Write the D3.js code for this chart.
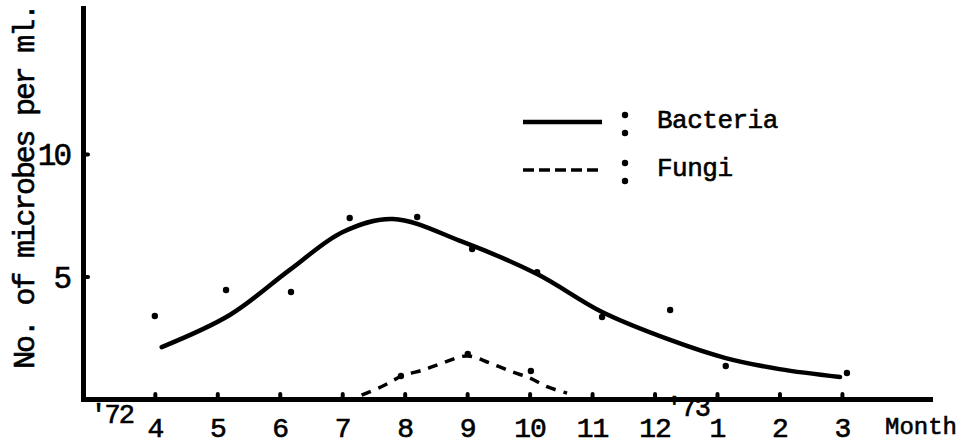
<!DOCTYPE html>
<html>
<head>
<meta charset="utf-8">
<script src="https://cdn.jsdelivr.net/npm/d3@7"></script>
<style>
  body { margin: 0; background: #fff; }
  svg text { font-family: "Liberation Mono", "DejaVu Sans Mono", monospace; fill: #000; stroke: #000; stroke-width: 0.6px; }
</style>
</head>
<body>
<div id="chart"></div>
<script>
// month index 0 = Apr '72 ... 11 = Mar '73
var monthLabels = ["4", "5", "6", "7", "8", "9", "10", "11", "12", "1", "2", "3"];
var yTicks = [5, 10];

// observed counts (position in months, value)
var bacteriaPos = [0.0, 1.14, 2.18, 3.12, 4.2, 5.08, 6.12, 7.16, 8.25, 9.14, 11.08];
var bacteriaVal = [3.39, 4.45, 4.37, 7.39, 7.43, 6.12, 5.18, 3.35, 3.63, 1.35, 1.06];
var fungiPos = [3.94, 5.01, 6.02];
var fungiVal = [0.94, 1.84, 1.14];

// hand-drawn trend lines
var bacteriaCurvePos = [0.11, 1.2, 2.16, 3.01, 3.81, 4.93, 6.12, 7.16, 8.25, 9.14, 10.0, 10.97];
var bacteriaCurveVal = [2.12, 3.43, 5.27, 6.82, 7.35, 6.41, 5.10, 3.55, 2.41, 1.67, 1.22, 0.90];
var fungiCurvePos = [3.31, 3.65, 3.96, 4.29, 4.61, 5.0, 5.36, 5.73, 6.0, 6.29, 6.6];
var fungiCurveVal = [0.16, 0.53, 0.94, 1.18, 1.47, 1.76, 1.47, 1.10, 0.86, 0.49, 0.24];

var legendItems = ["Bacteria", "Fungi"];

var width = 972, height = 444;

var svg = d3.select("#chart").append("svg")
    .attr("width", width)
    .attr("height", height);

var x = d3.scaleLinear().domain([-1.15, 12.41]).range([83, 930]);
var y = d3.scaleLinear().domain([0, 15.96]).range([399, 8]);

// axes
var xAxis = svg.append("g")
    .attr("transform", "translate(0," + y(0) + ")")
    .call(d3.axisBottom(x)
        .tickValues(d3.range(monthLabels.length))
        .tickSize(-5)
        .tickSizeOuter(0)
        .tickPadding(14)
        .tickFormat(function(d) { return monthLabels[d]; }));

var yAxis = svg.append("g")
    .attr("transform", "translate(" + x(-1.15) + ",0)")
    .call(d3.axisLeft(y)
        .tickValues(yTicks)
        .tickSize(-5)
        .tickSizeOuter(0)
        .tickPadding(14));

svg.selectAll("path.domain")
    .attr("stroke", "#000")
    .attr("stroke-width", 5)
    .attr("stroke-linecap", "square");
svg.selectAll("g.tick line")
    .attr("stroke", "#000")
    .attr("stroke-width", 4)
    .attr("stroke-linecap", "round");
svg.selectAll("g.tick text").attr("fill", "#000");
xAxis.selectAll("g.tick text")
    .style("font-size", "28px")
    .style("letter-spacing", "-1px")
    .attr("dy", "0.85em");
yAxis.selectAll("g.tick text")
    .style("font-size", "31px")
    .style("letter-spacing", "-3px")
    .attr("dy", "0.35em");

// year marks
svg.append("text")
    .attr("x", x(-0.69))
    .attr("y", 423)
    .attr("text-anchor", "middle")
    .style("font-size", "27px")
    .style("letter-spacing", "-2px")
    .text("'72");
svg.append("text")
    .attr("x", x(8.53))
    .attr("y", 416)
    .attr("text-anchor", "middle")
    .style("font-size", "27px")
    .style("letter-spacing", "-2px")
    .text("'73");

svg.append("text")
    .attr("x", 885)
    .attr("y", 434)
    .style("font-size", "24px")
    .text("Month");

// y label
svg.append("text")
    .attr("transform", "translate(34,187) rotate(-90)")
    .attr("text-anchor", "middle")
    .style("font-size", "30px")
    .style("letter-spacing", "-2.2px")
    .text("No. of microbes per ml.");

// curves
var line = d3.line()
    .x(function(d) { return x(d[0]); })
    .y(function(d) { return y(d[1]); })
    .curve(d3.curveCatmullRom);

svg.append("path")
    .datum(d3.zip(bacteriaCurvePos, bacteriaCurveVal))
    .attr("d", line)
    .attr("fill", "none")
    .attr("stroke", "#000")
    .attr("stroke-width", 4.5)
    .attr("stroke-linecap", "round");

svg.append("path")
    .datum(d3.zip(fungiCurvePos, fungiCurveVal))
    .attr("d", line)
    .attr("fill", "none")
    .attr("stroke", "#000")
    .attr("stroke-width", 3.5)
    .attr("stroke-dasharray", "10,8");

// observed points
svg.selectAll(".bpt")
    .data(d3.zip(bacteriaPos, bacteriaVal))
    .enter().append("circle")
    .attr("class", "bpt")
    .attr("cx", function(d) { return x(d[0]); })
    .attr("cy", function(d) { return y(d[1]); })
    .attr("r", 3.2)
    .attr("fill", "#000");

svg.selectAll(".fpt")
    .data(d3.zip(fungiPos, fungiVal))
    .enter().append("circle")
    .attr("class", "fpt")
    .attr("cx", function(d) { return x(d[0]); })
    .attr("cy", function(d) { return y(d[1]); })
    .attr("r", 3.2)
    .attr("fill", "#000");

// legend
var legend = svg.selectAll(".legend")
    .data(legendItems)
    .enter().append("g")
    .attr("class", "legend")
    .attr("transform", function(d, i) { return "translate(0," + (122 + i * 48) + ")"; });

legend.append("line")
    .attr("x1", 523)
    .attr("x2", 602)
    .attr("stroke", "#000")
    .attr("stroke-width", function(d, i) { return i == 0 ? 4.5 : 3.5; })
    .attr("stroke-dasharray", function(d, i) { return i == 0 ? null : "11,5"; });

legend.append("circle").attr("cx", 625).attr("cy", -7).attr("r", 3.2);
legend.append("circle").attr("cx", 625).attr("cy", 11).attr("r", 3.2);

legend.append("text")
    .attr("x", 657)
    .attr("y", 6)
    .style("font-size", "26px")
    .style("letter-spacing", "-0.5px")
    .text(function(d) { return d; });
</script>
</body>
</html>
